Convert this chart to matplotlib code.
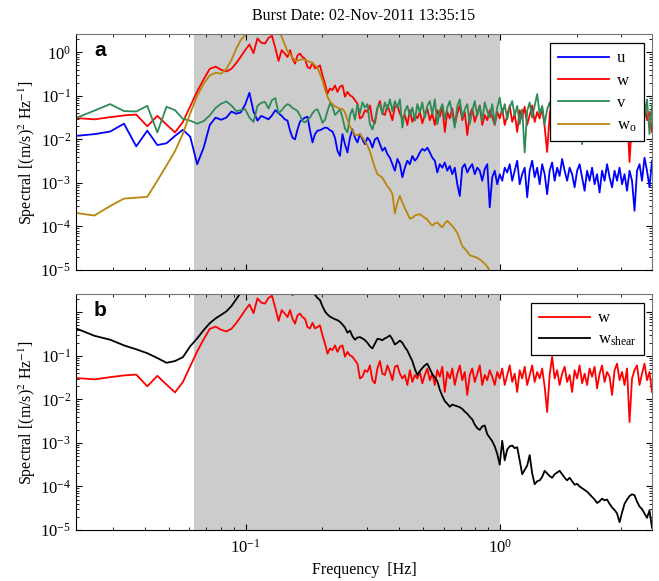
import numpy as np
import matplotlib
matplotlib.use('Agg')
from matplotlib import pyplot as plt
from matplotlib.ticker import LogLocator, FuncFormatter, NullFormatter

plt.rcParams['font.family'] = ['Liberation Serif', 'DejaVu Serif']
plt.rcParams['mathtext.fontset'] = 'stix'

# frequency bins: linear bins at the low end, log spaced above 0.146 Hz
freq_lo = 0.0215 + 0.0039 * np.arange(32)
freq_hi = np.geomspace(0.146, 3.96, 147)
freq = np.concatenate([freq_lo, freq_hi])

# shaded band [Hz]
band = [0.0625, 1.0]

# log10 spectral density, (m/s)^2 Hz^-1
log_u = [
    -1.92, -1.88, -1.82, -1.64, -2.16, -1.80, -2.13, -2.09, -1.92, -1.78, -1.94, -2.57, -2.19, -1.67, -1.50, -1.55,
    -1.50, -1.36, -1.41, -1.38, -1.20, -0.93, -1.36, -1.57, -1.46, -1.50, -1.54, -1.45, -1.33, -1.40, -1.46, -1.54,
    -1.57, -1.80, -1.96, -2.00, -1.77, -1.59, -1.54, -1.50, -1.48, -1.80, -2.07, -1.88, -1.80, -1.79, -1.76,
    -1.73, -1.74, -1.79, -1.82, -1.96, -2.26, -2.38, -1.88, -2.11, -2.30, -1.96, -1.77, -1.96, -2.07, -1.88,
    -2.00, -2.11, -1.96, -2.03, -2.19, -2.00, -1.96, -2.11, -2.26, -2.19,
    -2.34, -2.42, -2.57, -2.72, -2.45, -2.57, -2.87, -2.65, -2.49, -2.57,
    -2.38, -2.49, -2.42, -2.30, -2.22, -2.26, -2.19, -2.30, -2.42, -2.49,
    -2.76, -2.57, -2.65, -2.53, -2.72, -2.61, -2.80, -2.65, -3.03, -3.30,
    -2.65, -2.57, -2.76, -2.65, -2.57, -2.80, -2.65, -2.72, -2.95, -2.68,
    -2.57, -3.56, -2.87, -2.72, -3.03, -2.80, -2.95, -2.65, -2.76, -2.57,
    -2.95, -2.72, -2.49, -3.03, -2.80, -2.65, -3.33, -2.72, -2.49, -2.87,
    -2.65, -3.03, -2.57, -2.80, -3.26, -2.72, -2.53, -2.95, -2.65, -2.84,
    -2.45, -2.72, -2.95, -2.65, -2.80, -3.10, -2.72, -2.57, -2.87, -3.18,
    -2.72, -2.95, -2.65, -3.03, -2.80, -3.22, -2.72, -2.95, -2.57, -2.87,
    -3.10, -2.72, -2.95, -2.65, -3.03, -2.80, -3.18, -2.72, -2.95, -3.64,
    -2.72, -2.57, -2.95, -2.42, -2.72, -3.10, -2.49,
]

log_w = [
    -1.51, -1.54, -1.49, -1.45, -1.43, -1.70, -1.46, -1.66, -1.84, -1.60, -1.24, -0.90, -0.62, -0.38, -0.33, -0.40,
    -0.44, -0.38, -0.25, -0.10, 0.05, 0.18, -0.02, 0.32, 0.22, 0.20, 0.33, 0.38, 0.10, -0.20, 0.05, -0.03,
    -0.11, 0.05, -0.15, -0.26, -0.07, -0.03, -0.11, -0.15, -0.34, -0.37, -0.24, -0.37, -0.34, -0.30, -0.53,
    -0.72, -0.95, -0.83, -0.87, -0.76, -0.91, -0.79, -0.76, -1.02, -0.91, -0.99, -1.02, -1.10, -1.18, -1.52,
    -1.48, -1.33, -1.37, -1.22, -1.56, -1.63, -1.29, -1.12, -1.41, -1.44,
    -1.22, -1.37, -1.56, -1.25, -1.22, -1.41, -1.52, -1.44, -1.67, -1.33,
    -1.60, -1.44, -1.52, -1.37, -1.63, -1.44, -1.29, -1.56, -1.41, -1.67,
    -1.33, -1.48, -1.25, -1.83, -1.37, -1.52, -1.29, -1.67, -1.41, -1.22,
    -1.56, -1.37, -1.90, -1.44, -1.29, -1.60, -1.41, -1.22, -1.67, -1.44,
    -1.56, -1.33, -1.48, -1.67, -1.37, -1.52, -1.29, -1.67, -1.44, -1.22,
    -1.60, -1.41, -1.83, -1.33, -1.52, -1.25, -1.67, -1.44, -1.22, -1.60,
    -1.37, -1.52, -1.29, -1.71, -2.29, -1.44, -1.02, -1.52, -1.33, -1.67,
    -1.41, -1.25, -1.60, -1.44, -1.83, -1.33, -1.52, -1.22, -1.63, -1.41,
    -1.67, -1.29, -1.48, -1.25, -1.75, -1.41, -1.22, -1.60, -1.37, -1.48,
    -1.90, -1.33, -1.18, -1.56, -1.37, -1.67, -1.29, -2.52, -1.52, -1.33,
    -1.22, -1.67, -1.41, -1.18, -1.56, -1.37, -1.83,
]

log_v = [
    -1.51, -1.34, -1.19, -1.35, -1.36, -1.23, -1.84, -1.25, -1.33, -1.53, -1.57, -1.64, -1.58, -1.45, -1.28, -1.18,
    -1.13, -1.22, -1.35, -1.33, -1.31, -1.50, -1.60, -1.23, -1.16, -1.14, -1.29, -1.10, -1.05, -1.40, -1.33, -1.24,
    -1.19, -1.22, -1.28, -1.31, -1.35, -1.45, -1.58, -1.61, -1.55, -1.50, -1.40, -1.33, -1.31, -1.45, -1.62,
    -1.55, -1.35, -1.17, -1.25, -1.44, -1.38, -1.31, -1.50, -1.75, -1.84, -1.45, -1.30, -1.55, -1.20, -1.40,
    -1.15, -1.27, -1.19, -1.65, -1.77, -1.57, -1.27, -1.19, -1.42, -1.15,
    -1.31, -1.08, -1.35, -1.12, -1.27, -1.08, -1.73, -1.35, -1.23, -1.46,
    -1.27, -1.57, -1.19, -1.38, -1.15, -1.50, -1.23, -1.12, -1.42, -1.08,
    -1.65, -1.35, -1.19, -1.54, -1.27, -1.12, -1.42, -1.73, -1.23, -1.08,
    -1.50, -1.31, -1.19, -1.65, -1.35, -1.12, -1.46, -1.23, -1.57, -1.15,
    -1.35, -1.50, -1.19, -1.65, -1.27, -1.04, -1.42, -1.19, -1.54, -1.27,
    -1.12, -1.46, -1.23, -1.65, -1.31, -2.30, -1.35, -1.15, -1.50, -1.23,
    -0.96, -1.42, -1.23, -1.65, -1.31, -1.15, -1.42, -1.27, -1.57, -1.19,
    -1.38, -1.12, -1.50, -1.27, -1.65, -1.23, -1.38, -1.12, -2.11, -1.31,
    -1.19, -1.46, -1.27, -1.57, -1.19, -1.38, -1.12, -1.50, -1.27, -1.65,
    -1.31, -1.15, -1.46, -1.23, -1.57, -1.27, -1.12, -1.42, -1.27, -1.65,
    -1.23, -1.38, -1.15, -1.50, -1.08, -1.88, -1.19,
]

# w_o drops off the bottom of the axis just below 1 Hz
log_w0 = [
    -3.69, -3.75, -3.53, -3.36, -3.34, -3.32, -2.95, -2.60, -2.27, -1.87, -1.40, -1.00, -0.72, -0.53, -0.47, -0.49,
    -0.38, -0.18, 0.08, 0.28, 0.40, 0.48, 0.52, 0.55, 0.57, 0.58, 0.58, 0.56, 0.52, 0.50, 0.36, 0.18,
    0.02, -0.04, -0.12, -0.20, -0.19, -0.17, -0.16, -0.17, -0.20, -0.22, -0.25, -0.30, -0.36, -0.50, -0.64,
    -0.85, -1.02, -1.13, -1.19, -1.24, -1.27, -1.30, -1.30, -1.38, -1.55, -1.70, -1.80, -1.90, -1.90, -1.88,
    -1.96, -2.04, -2.14, -2.28, -2.47, -2.65, -2.80, -2.84, -2.88, -2.98,
    -3.08, -3.15, -3.25, -3.70, -3.45, -3.30, -3.45, -3.58, -3.70, -3.82,
    -3.80, -3.75, -3.73, -3.72, -3.76, -3.80, -3.84, -3.92, -3.98, -3.93,
    -3.91, -3.97, -4.02, -3.93, -3.87, -3.93, -3.99, -4.06, -4.15, -4.30,
    -4.45, -4.51, -4.58, -4.66, -4.68, -4.70, -4.72, -4.76, -4.80, -4.86,
    -4.92, -5.02, -5.15, -5.30, -5.45,
]

log_wshear = [
    -0.37, -0.54, -0.63, -0.76, -0.85, -0.94, -1.05, -1.16, -1.12, -1.03, -0.78, -0.60, -0.41, -0.25, -0.14, -0.06,
    0.02, 0.14, 0.30, 0.45, 0.55, 0.65, 0.70, 0.72, 0.75, 0.78, 0.80, 0.80, 0.80, 0.78, 0.72, 0.62,
    0.55, 0.48, 0.40, 0.44, 0.55, 0.60, 0.62, 0.60, 0.55, 0.50, 0.45, 0.40, 0.33, 0.28, 0.14,
    0.02, -0.05, -0.10, -0.13, -0.16, -0.18, -0.22, -0.28, -0.35, -0.47, -0.42, -0.55, -0.63, -0.58, -0.57,
    -0.60, -0.64, -0.70, -0.78, -0.83, -0.72, -0.61, -0.62, -0.64, -0.60,
    -0.57, -0.53, -0.62, -0.74, -0.70, -0.65, -0.70, -0.80, -0.88, -1.00,
    -1.12, -1.30, -1.44, -1.35, -1.28, -1.22, -1.18, -1.30, -1.42, -1.50,
    -1.58, -1.78, -1.92, -2.04, -2.10, -2.17, -2.12, -2.14, -2.16, -2.18,
    -2.22, -2.28, -2.33, -2.40, -2.46, -2.58, -2.66, -2.70, -2.62, -2.60,
    -2.80, -2.88, -2.96, -3.08, -3.25, -3.50, -2.95, -3.40, -3.15, -3.08,
    -3.06, -3.12, -3.10, -3.40, -3.72, -3.62, -3.52, -3.28, -3.70, -3.95,
    -3.88, -3.86, -3.78, -3.64, -3.70, -3.76, -3.80, -3.72, -3.68, -3.64,
    -3.72, -3.80, -3.86, -3.80, -3.88, -3.96, -3.94, -4.00, -4.04, -4.08,
    -4.12, -4.18, -4.24, -4.30, -4.38, -4.34, -4.28, -4.32, -4.30, -4.40,
    -4.48, -4.54, -4.62, -4.82, -4.60, -4.40, -4.30, -4.22, -4.18, -4.20,
    -4.35, -4.46, -4.52, -4.62, -4.72, -4.55, -4.95,
]

u = 10 ** np.array(log_u)
w = 10 ** np.array(log_w)
v = 10 ** np.array(log_v)
w0 = 10 ** np.array(log_w0)
wshear = 10 ** np.array(log_wshear)

W, H = 659, 581
LW = 1.3
fig = plt.figure(figsize=(W / 100, H / 100), dpi=100)
ax1 = fig.add_axes([76 / W, 1 - 270 / H, 576 / W, 236 / H])
ax2 = fig.add_axes([76 / W, 1 - 530 / H, 576 / W, 236 / H])


def decade_label(val, pos, skip_one=False):
    if skip_one and val >= 1:
        return ''
    return r'$\mathdefault{10^{%d}}$' % int(round(np.log10(val)))


for ax in (ax1, ax2):
    ax.set_xscale('log')
    ax.set_yscale('log')
    ax.set_xlim(freq[0], freq[-1])
    ax.set_ylim(1e-5, 10 ** 0.42)
    ax.axvspan(band[0], band[1], color='#cccccc', lw=0, zorder=0)
    ax.xaxis.set_major_locator(LogLocator(base=10, numticks=10))
    ax.xaxis.set_minor_locator(LogLocator(base=10, subs=np.arange(2, 10), numticks=20))
    ax.yaxis.set_major_locator(LogLocator(base=10, numticks=10))
    ax.yaxis.set_minor_locator(LogLocator(base=10, subs=np.arange(2, 10), numticks=20))
    ax.tick_params(which='both', direction='in', top=True, right=True, labelsize=12)
    ax.tick_params(which='major', length=4)
    ax.tick_params(which='minor', length=2.5)
    ax.xaxis.set_minor_formatter(NullFormatter())
    ax.yaxis.set_minor_formatter(NullFormatter())
    ax.set_ylabel(r'Spectral [(m/s)$^2$ Hz$^{-1}$]', fontsize=11.5)
    ax.yaxis.set_label_coords(-0.066, 0.5)
    for side in ('top', 'right'):
        ax.spines[side].set_color('0.45')

ax1.yaxis.set_major_formatter(FuncFormatter(decade_label))
ax2.yaxis.set_major_formatter(FuncFormatter(lambda val, pos: decade_label(val, pos, True)))
ax1.xaxis.set_major_formatter(NullFormatter())
ax2.xaxis.set_major_formatter(FuncFormatter(decade_label))
ax2.tick_params(axis='x', which='major', pad=6)

# panel a: velocity components
ax1.plot(freq, u, color='#0000ff', lw=LW, label='u')
ax1.plot(freq, w, color='#ff0000', lw=LW, label='w')
ax1.plot(freq, v, color='#2e8b57', lw=LW, label='v')
ax1.plot(freq[:len(w0)], w0, color='#b8860b', lw=LW, label=r'w$_{\mathdefault{o}}$')
leg1 = ax1.legend(loc='upper right', bbox_to_anchor=(0.986, 0.962), borderaxespad=0,
                  fontsize=12, handlelength=3.1, handletextpad=0.45, labelspacing=0.38,
                  borderpad=0.45, fancybox=False, framealpha=1, edgecolor='black')
leg1.get_frame().set_linewidth(0.9)

# panel b: w against shear-derived w
ax2.plot(freq, w, color='#ff0000', lw=LW, label='w')
ax2.plot(freq, wshear, color='black', lw=LW, label=r'w$_{\mathdefault{shear}}$')
leg2 = ax2.legend(loc='upper right', bbox_to_anchor=(0.986, 0.962), borderaxespad=0,
                  fontsize=12, handlelength=3.1, handletextpad=0.45, labelspacing=0.3,
                  borderpad=0.45, fancybox=False, framealpha=1, edgecolor='black')
leg2.get_frame().set_linewidth(0.9)

ax1.text(0.042, 0.932, 'a', transform=ax1.transAxes, ha='center', va='center',
         fontsize=15, fontweight='bold', family='Liberation Sans')
ax2.text(0.042, 0.932, 'b', transform=ax2.transAxes, ha='center', va='center',
         fontsize=15, fontweight='bold', family='Liberation Sans')

fig.text(364 / W, 1 - 570 / H, 'Frequency  [Hz]', ha='center', va='center', fontsize=11.5)
fig.text(364 / W, 1 - 16 / H, 'Burst Date: 02-Nov-2011 13:35:15', ha='center', va='center',
         fontsize=11.5)

fig.savefig('out.png', dpi=100)
